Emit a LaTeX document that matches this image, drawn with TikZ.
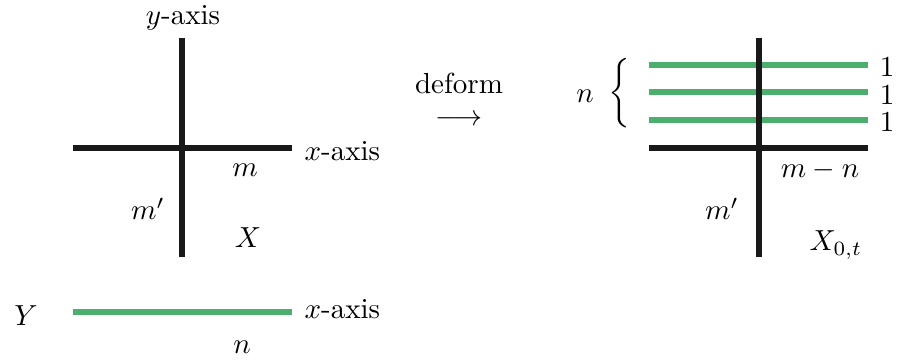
\documentclass[tikz,border=0pt]{standalone}
\definecolor{grn}{RGB}{76,175,110}
\begin{document}
\begin{tikzpicture}[x=0.3448pt,y=-0.3448pt,
  axis/.style={line width=1.9pt,black!90},
  gline/.style={line width=1.9pt,grn},
  lbl/.style={inner sep=0pt}]
\useasboundingbox (0,0) rectangle (898,361);
% left picture
\coordinate (lvt) at (182,38); \coordinate (lvb) at (182,257);
\coordinate (lhl) at (73,148); \coordinate (lhr) at (292,148);
\draw[axis] (lvt) -- (lvb);
\draw[axis] (lhl) -- (lhr);
\node[lbl] (ylab) at (183,18) {$y$-axis};
\node[lbl,anchor=west] (xlab) at (304,151) {$x$-axis};
\node[lbl] (m) at (245,170) {$m$};
\node[lbl] (mp) at (148,209) {$m'$};
\node[lbl] (X) at (248,238) {$X$};
% Y
\coordinate (gl) at (73,312); \coordinate (gr) at (292,312);
\draw[gline] (gl) -- (gr);
\node[lbl] (Y) at (26,316) {$Y$};
\node[lbl,anchor=west] (xlab2) at (304,309) {$x$-axis};
\node[lbl] (n) at (242,347) {$n$};
% arrow
\node[lbl] (deform) at (459,83) {deform};
\node[lbl] (arr) at (459,120) {$\longrightarrow$};
% right picture
\coordinate (rvt) at (759,38); \coordinate (rvb) at (759,257);
\coordinate (rhl) at (649,148); \coordinate (rhr) at (868,148);
\coordinate (g1l) at (649,65); \coordinate (g1r) at (868,65);
\coordinate (g2l) at (649,92); \coordinate (g2r) at (868,92);
\coordinate (g3l) at (649,120); \coordinate (g3r) at (868,120);
\draw[gline] (g1l) -- (g1r);
\draw[gline] (g2l) -- (g2r);
\draw[gline] (g3l) -- (g3r);
\draw[axis] (rvt) -- (rvb);
\draw[axis] (rhl) -- (rhr);
\node[lbl] (o1) at (887,67) {$1$};
\node[lbl] (o2) at (887,95) {$1$};
\node[lbl] (o3) at (887,122) {$1$};
\node[lbl] (brace) at (619,93) {$\bigg\{$};
\node[lbl] (nr) at (585,96) {$n$};
\node[lbl] (mn) at (820,170) {$m-n$};
\node[lbl] (mpr) at (722,209) {$m'$};
\node[lbl] (X0t) at (836,245) {$X_{0,t}$};
\end{tikzpicture}
\end{document}
